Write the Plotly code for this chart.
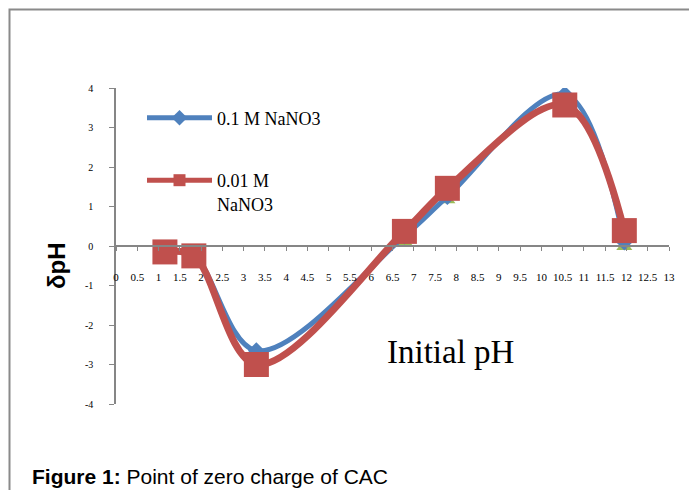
import plotly.graph_objects as go

# Data
x_ph = [1.15, 1.83, 3.30, 6.78, 7.79, 10.55, 11.95]
dph_01M = [-0.15, -0.25, -2.65, 0.25, 1.25, 3.84, 0.10]
dph_001M = [-0.15, -0.25, -3.00, 0.37, 1.46, 3.57, 0.39]
x_third = [6.78, 7.79, 11.95]
dph_third = [0.11, 1.17, -0.01]

series_names = ["0.1 M NaNO3", "0.01 M<br>NaNO3"]
y_ticks = [-4, -3, -2, -1, 0, 1, 2, 3, 4]
y_ticktext = ["-4", "-3", "-2", "-1", "0", "1", "2", "3", "4"]

BLUE = "#4F81BD"
RED = "#C0504D"
GREEN = "#9BBB59"
AXIS = "#868686"
SERIF = "Liberation Serif, Times New Roman, serif"
SANS = "Liberation Sans, Arial, sans-serif"

fig = go.Figure()

fig.add_trace(go.Scatter(
    x=x_third, y=dph_third, mode="markers", showlegend=False,
    marker=dict(symbol="triangle-up", size=14, color=GREEN),
    hoverinfo="skip"))

fig.add_trace(go.Scatter(
    x=x_ph, y=dph_01M, mode="lines+markers", name=series_names[0],
    line=dict(color=BLUE, width=5, shape="spline", smoothing=1),
    marker=dict(symbol="diamond", size=13, color=BLUE),
    legend="legend"))

fig.add_trace(go.Scatter(
    x=x_ph, y=dph_001M, mode="lines+markers", name=series_names[1],
    line=dict(color=RED, width=7, shape="spline", smoothing=1),
    marker=dict(symbol="square", size=25, color=RED),
    legend="legend2"))

OFF = 8  # page body margin
W, H = 697 - OFF, 490 - OFF
L = 116 - OFF
T = 88 - OFF
R = W - (669 - OFF)
B = H - (404 - OFF)
pw, ph = W - L - R, H - T - B

def px(xp):
    return (xp - OFF - L) / pw

def py(yp):
    return 1 - (yp - OFF - T) / ph

fig.update_layout(
    width=W, height=H,
    margin=dict(l=L, r=R, t=T, b=B),
    paper_bgcolor="white", plot_bgcolor="white",
    showlegend=True,
    legend=dict(x=px(142), y=py(118), xanchor="left", yanchor="middle",
                font=dict(family=SERIF, size=18, color="#000"),
                bgcolor="rgba(0,0,0,0)", itemsizing="constant", itemwidth=65),
    legend2=dict(x=px(142), y=py(162), xanchor="left", yanchor="top",
                 font=dict(family=SERIF, size=18, color="#000"),
                 bgcolor="rgba(0,0,0,0)", itemsizing="constant", itemwidth=65,
                 valign="top"),
    xaxis=dict(range=[0, 13], dtick=0.5, tick0=0, anchor="free", position=0.5,
               showline=True, linecolor=AXIS, linewidth=1.5,
               ticks="outside", ticklen=4, tickcolor=AXIS, tickwidth=1,
               ticklabelstandoff=17,
               tickfont=dict(family=SERIF, size=11, color="#000"),
               showgrid=False, zeroline=False),
    yaxis=dict(range=[-4, 4], tickvals=y_ticks, ticktext=y_ticktext, showline=True,
               linecolor=AXIS, linewidth=1.5,
               ticks="outside", ticklen=5, tickcolor=AXIS, tickwidth=1,
               ticklabelstandoff=14,
               tickfont=dict(family=SERIF, size=10, color="#000"),
               showgrid=False, zeroline=False),
)

fig.add_annotation(text="<b>δpH</b>", x=px(56), y=py(266), xref="paper", yref="paper",
                   showarrow=False, textangle=-90,
                   font=dict(family=SANS, size=24, color="#000"),
                   xanchor="center", yanchor="middle")
fig.add_annotation(text="Initial pH", x=px(450), y=py(352), xref="paper", yref="paper",
                   showarrow=False, font=dict(family=SERIF, size=33, color="#000"),
                   xanchor="center", yanchor="middle")
fig.add_annotation(text="<b>Figure 1:</b> Point of zero charge of CAC",
                   x=px(30), y=py(477), xref="paper", yref="paper",
                   showarrow=False, font=dict(family=SANS, size=21, color="#000"),
                   xanchor="left", yanchor="middle")

fig.add_shape(type="rect", xref="paper", yref="paper",
              x0=px(9.5), y0=py(520), x1=px(720), y1=py(9.5),
              line=dict(color="#8a8a8a", width=2), layer="below")

fig.write_html("out.html")
